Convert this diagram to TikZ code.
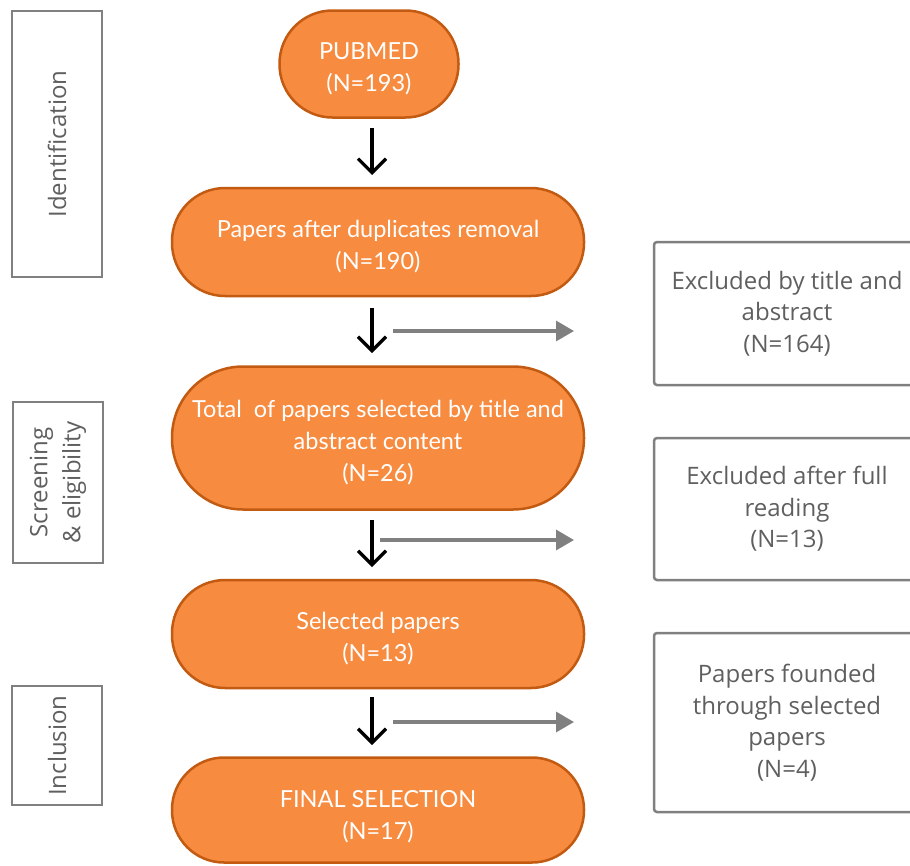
\documentclass[tikz,border=0pt]{standalone}
\usepackage{fontspec}
\setmainfont{Open Sans}
\newfontfamily\grayfont{Open Sans}
\newfontfamily\latofont{Lato}
\usetikzlibrary{arrows.meta}
\definecolor{orfill}{HTML}{F78C40}
\definecolor{ordraw}{HTML}{C25A12}
\definecolor{grline}{HTML}{808080}
\definecolor{grtext}{HTML}{5F5F5F}
\newcommand\myTopLift{\rule{0pt}{26pt}}
\begin{document}
\begin{tikzpicture}[x=1pt,y=-1pt,
  stadium/.style={draw=ordraw, fill=orfill, line width=2.5pt, text=white, align=center,
    font=\latofont\fontsize{23.5}{32}\selectfont, inner sep=0pt},
  exbox/.style={draw=grline, line width=2.5pt, rounded corners=3pt, text=grtext, align=center,
    font=\grayfont\fontsize{24}{31.5}\selectfont, inner sep=0pt, minimum width=266pt},
  phase/.style={draw=grline, line width=2.5pt, text=grtext, align=center, rotate=90,
    font=\grayfont\fontsize{24}{33}\selectfont, inner sep=0pt, minimum height=90pt},
  down/.style={line width=3.2pt, -{Straight Barb[length=14pt,width=28pt]}},
  side/.style={grline, line width=3.3pt, -{Triangle[length=18pt,width=20pt]}}]
\useasboundingbox (0,0) rectangle (910,865);
% phase labels
\node[phase, minimum width=266pt] (ident) at (57,144) {Identification};
\node[phase, minimum width=161pt] (screen) at (58,482.5) {Screening\\\& eligibility};
\node[phase, minimum width=119pt] (incl) at (57,745.5) {Inclusion};
% main flow
\node[stadium, minimum width=179pt, minimum height=107pt, rounded corners=53pt] (pubmed) at (369,64) {\myTopLift PUBMED\\(N=193)};
\node[stadium, minimum width=412pt, minimum height=108pt, rounded corners=53pt] (dup) at (378,242) {\myTopLift Papers after duplicates removal\\(N=190)};
\node[stadium, minimum width=412pt, minimum height=143pt, rounded corners=71pt] (total) at (378,438) {\myTopLift Total\ \ of papers selected by title and\\abstract content\\(N=26)};
\node[stadium, minimum width=412pt, minimum height=108pt, rounded corners=53pt] (sel) at (378,634) {\myTopLift Selected papers\\(N=13)};
\node[stadium, minimum width=412pt, minimum height=105pt, rounded corners=52pt] (final) at (378,810) {\rule{0pt}{30pt}FINAL SELECTION\\(N=17)};
% excluded boxes (cut by the right edge)
\begin{scope}
\clip (0,0) rectangle (910,865);
\node[exbox, minimum height=143pt] (ex1) at (787,313.5) {Excluded by title and\\abstract\\(N=164)};
\node[exbox, minimum height=142pt] (ex2) at (787,509) {Excluded after full\\reading\\(N=13)};
\node[exbox, minimum height=179pt] (ex3) at (787,722.5) {Papers founded\\through selected\\papers\\(N=4)};
\end{scope}
% arrow end points
\coordinate (d1s) at (372,128); \coordinate (d1e) at (372,175);
\coordinate (d2s) at (372,308); \coordinate (d2e) at (372,353);
\coordinate (d3s) at (372,520); \coordinate (d3e) at (372,567);
\coordinate (d4s) at (372,697); \coordinate (d4e) at (372,745);
\coordinate (s1s) at (393,331); \coordinate (s1e) at (574,331);
\coordinate (s2s) at (380,540); \coordinate (s2e) at (574,540);
\coordinate (s3s) at (393,722); \coordinate (s3e) at (574,722);
\draw[side] (s1s) -- (s1e);
\draw[side] (s2s) -- (s2e);
\draw[side] (s3s) -- (s3e);
\draw[down] (d1s) -- (d1e);
\draw[down] (d2s) -- (d2e);
\draw[down] (d3s) -- (d3e);
\draw[down] (d4s) -- (d4e);
\end{tikzpicture}
\end{document}
